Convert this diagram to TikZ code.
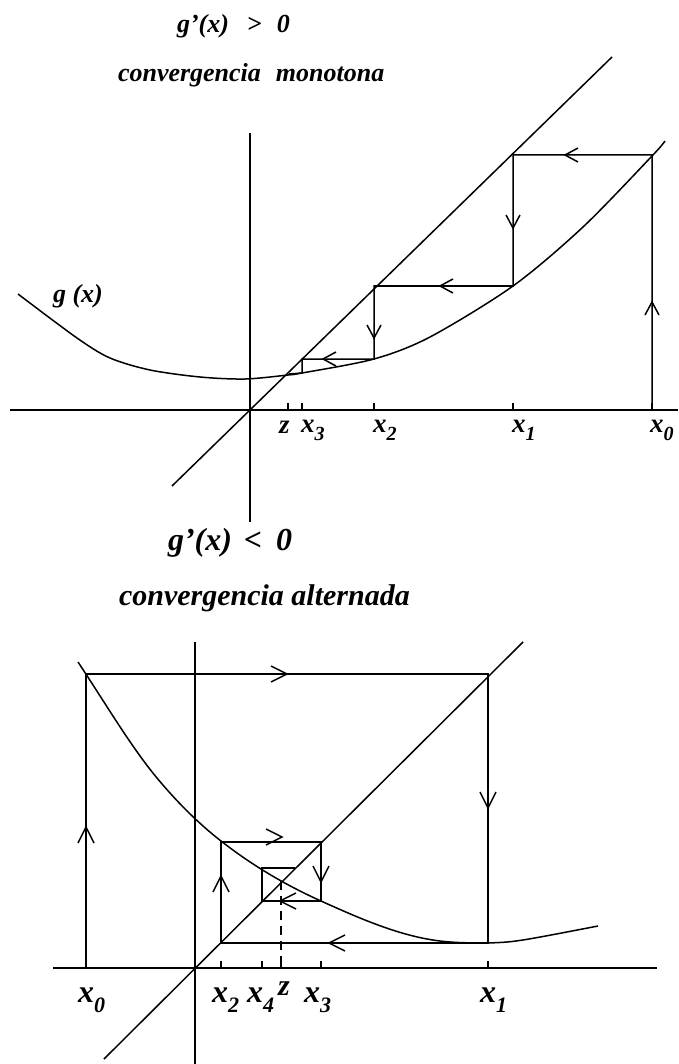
\documentclass[tikz,border=0pt]{standalone}
\usepackage{fontspec}
\setmainfont{Liberation Serif}
\newcommand\myfs[1]{\fontsize{#1}{#1}\selectfont\bfseries\itshape}
\begin{document}
\begin{tikzpicture}[x=1pt,y=-1pt,line width=1.5pt,
  lbl/.style={anchor=base west,inner sep=0pt,outer sep=0pt},
  tbarb/.pic={\draw (-13,-7) -- (0,0) -- (-13,7);},
  bbarb/.pic={\draw (-16,-8) -- (0,0) -- (-16,8);}]
\useasboundingbox (0,0) rectangle (678,1064);

% ---------- top titles ----------
\node[lbl] (t1) at (177,33) {\myfs{26}g’(x)\hspace{18pt}>\hspace{15pt}0};
\node[lbl] (t2) at (118,82) {\myfs{26}convergencia\hspace{15pt}monotona};

% ---------- top graph ----------
\draw (250,133) -- (250,522);
\draw (10,410) -- (678,410);
\draw (172,486) -- (612,57);
\draw plot[smooth] coordinates {(18,294) (77,338) (110,358) (150,370) (200,377) (245,379) (288,375) (302,373) (374,359) (430,337) (513,286) (583,227) (652,156) (665,141)};

\coordinate (a0) at (652,410);
\coordinate (a1) at (652,155);
\coordinate (a2) at (513,155);
\coordinate (a3) at (513,286);
\coordinate (a4) at (374,286);
\coordinate (a5) at (374,359);
\coordinate (a6) at (302,359);
\coordinate (a7) at (302,373);
\coordinate (a8) at (289,374);
\draw (a0) -- (a1) -- (a2) -- (a3) -- (a4) -- (a5) -- (a6) -- (a7) -- (a8);

\pic[rotate=90]  at (652,302) {tbarb};
\pic[rotate=180] at (565,155) {tbarb};
\pic[rotate=-90] at (513,228) {tbarb};
\pic[rotate=180] at (440,286) {tbarb};
\pic[rotate=-90] at (374,338) {tbarb};
\pic[rotate=180] at (323,359) {tbarb};

\foreach \x in {288,302,374,513,652} \draw (\x,403) -- (\x,410);

\node[lbl] (gx) at (53,302) {\myfs{26}g (x)};
\node[lbl] (lz1) at (279,433) {\myfs{27}z};
\node[lbl] (l31) at (301,432) {\myfs{27}x\raisebox{-8pt}{\myfs{20}3}};
\node[lbl] (l21) at (373,432) {\myfs{27}x\raisebox{-8pt}{\myfs{20}2}};
\node[lbl] (l11) at (512,432) {\myfs{27}x\raisebox{-8pt}{\myfs{20}1}};
\node[lbl] (l01) at (650,432) {\myfs{27}x\raisebox{-8pt}{\myfs{20}0}};

% ---------- bottom titles ----------
\node[lbl] (t3) at (168,550) {\myfs{32}g’(x)\hspace{12pt}<\hspace{14pt}0};
\node[lbl] (t4) at (119,605) {\myfs{30}convergencia alternada};

% ---------- bottom graph ----------
\draw (195,642) -- (195,1064);
\draw (53,968) -- (657,968);
\draw (104,1059) -- (523,642);
\draw (78,662) .. controls (104.3,701.5) and (130.7,746.4) .. (157,778)
      .. controls (178.3,803.6) and (199.7,824.4) .. (221,841)
      .. controls (254.3,867) and (287.7,886) .. (321,901)
      .. controls (360.7,918.9) and (400.3,936.2) .. (440,941)
      .. controls (456,942.9) and (472,943) .. (488,943)
      .. controls (515,942) .. (598,926);

\coordinate (b0) at (86,968);
\coordinate (b1) at (86,674);
\coordinate (b2) at (488,674);
\coordinate (b3) at (488,943);
\coordinate (b4) at (221,943);
\coordinate (b5) at (221,842);
\coordinate (b6) at (321,842);
\coordinate (b7) at (321,901);
\coordinate (b8) at (262,901);
\coordinate (b9) at (262,868);
\coordinate (b10) at (295,868);
\draw (b0) -- (b1) -- (b2) -- (b3) -- (b4) -- (b5) -- (b6) -- (b7) -- (b8) -- (b9) -- (b10);
\draw[dash pattern=on 9pt off 6pt] (281,881) -- (281,968);

\pic[rotate=90]  at (86,827)  {bbarb};
\pic             at (287,674) {bbarb};
\pic[rotate=-90] at (488,808) {bbarb};
\pic[rotate=180] at (329,943) {bbarb};
\pic[rotate=90]  at (221,876) {bbarb};
\pic             at (282,837) {bbarb};
\pic[rotate=-90] at (321,882) {bbarb};
\pic[rotate=180] at (280,901) {bbarb};

\foreach \x in {86,221,262,281,321,488} \draw (\x,961) -- (\x,968);

\node[lbl] (l02) at (78,1002)  {\myfs{32}x\raisebox{-10pt}{\myfs{22}0}};
\node[lbl] (l22) at (212,1002) {\myfs{32}x\raisebox{-10pt}{\myfs{22}2}};
\node[lbl] (l42) at (247,1002) {\myfs{32}x\raisebox{-10pt}{\myfs{22}4}};
\node[lbl] (lz2) at (278,995)  {\myfs{30}z};
\node[lbl] (l32) at (304,1002) {\myfs{32}x\raisebox{-10pt}{\myfs{22}3}};
\node[lbl] (l12) at (480,1002) {\myfs{32}x\raisebox{-10pt}{\myfs{22}1}};
\end{tikzpicture}
\end{document}
